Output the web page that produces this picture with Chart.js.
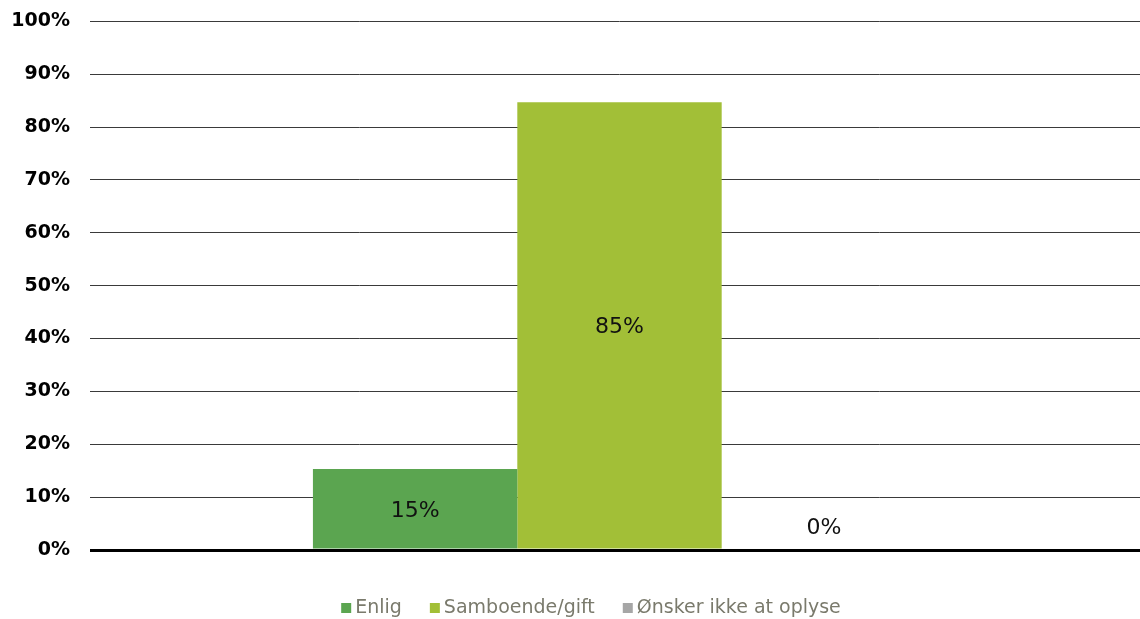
<!DOCTYPE html>
<html lang="da">
<head>
<meta charset="UTF-8">
<title>Civilstand</title>
<script src="https://cdn.jsdelivr.net/npm/chart.js@4"></script>
<style>
    html, body { margin: 0; padding: 0; background: #fff; overflow: hidden; }
    #wrap { width: 1140px; height: 629px; margin-top: -10px; }
</style>
</head>
<body>
<div id="wrap"><canvas id="canvas"></canvas></div>
<script>
    // data
    const categories = [""];
    const seriesNames = ["Enlig", "Samboende/gift", "Ønsker ikke at oplyse"];
    const seriesValues = [[15.3], [84.7], [0]];
    const seriesLabels = ["15%", "85%", "0%"];
    const seriesColors = ["#5ba550", "#a2bf37", "#a6a6a6"];
    const yTicks = [0, 10, 20, 30, 40, 50, 60, 70, 80, 90, 100];

    const FONT = "'DejaVu Sans', Verdana, sans-serif";

    // value labels in the middle of each bar (above the axis when zero)
    const valueLabels = {
        id: "valueLabels",
        afterDatasetsDraw(chart) {
            const ctx = chart.ctx;
            ctx.save();
            ctx.font = "22px " + FONT;
            ctx.fillStyle = "#111";
            ctx.textAlign = "center";
            ctx.textBaseline = "middle";
            chart.data.datasets.forEach((ds, i) => {
                const bar = chart.getDatasetMeta(i).data[0];
                let y = (bar.y + bar.base) / 2 + 2;
                if (ds.data[0] === 0) y = bar.base - 22;
                ctx.fillText(seriesLabels[i], bar.x, y);
            });
            ctx.restore();
        }
    };

    // legend drawn by hand so the box sits close to its text
    const bottomLegend = {
        id: "bottomLegend",
        afterDraw(chart) {
            const ctx = chart.ctx;
            const box = 10, gap = 4, spacing = 28;
            const y = chart.chartArea.bottom + 58;
            ctx.save();
            ctx.font = "19px " + FONT;
            ctx.textBaseline = "middle";
            const widths = seriesNames.map(n => box + gap + ctx.measureText(n).width);
            const total = widths.reduce((a, b) => a + b, 0) + spacing * (widths.length - 1);
            let x = (chart.width - total) / 2 + 21;
            seriesNames.forEach((name, i) => {
                ctx.fillStyle = seriesColors[i];
                ctx.fillRect(x, y - box / 2, box, box);
                ctx.fillStyle = "#7a7a6c";
                ctx.fillText(name, x + box + gap, y);
                x += widths[i] + spacing;
            });
            ctx.restore();
        }
    };

    const chart = new Chart(document.getElementById("canvas"), {
        type: "bar",
        data: {
            labels: categories,
            datasets: seriesNames.map((name, i) => ({
                label: name,
                data: seriesValues[i],
                backgroundColor: seriesColors[i],
                borderWidth: 0,
                categoryPercentage: 0.589,
                barPercentage: 1
            }))
        },
        options: {
            responsive: true,
            maintainAspectRatio: false,
            animation: false,
            layout: { padding: { top: 0, right: 0, left: 0, bottom: 69 } },
            plugins: {
                tooltip: { enabled: false },
                legend: { display: false }
            },
            scales: {
                x: {
                    display: false,
                    grid: { display: false }
                },
                y: {
                    min: 0,
                    max: 100,
                    afterBuildTicks: (scale) => { scale.ticks = yTicks.map(v => ({ value: v })); },
                    afterFit: (scale) => { scale.width = 99; },
                    border: { display: false },
                    grid: {
                        drawTicks: true,
                        tickLength: 9,
                        color: (c) => c.tick && c.tick.value === 0 ? "#000" : "#3a3a3a",
                        lineWidth: (c) => c.tick && c.tick.value === 0 ? 3 : 1
                    },
                    ticks: {
                        padding: 20,
                        color: "#000",
                        font: { family: FONT, size: 19, weight: "bold" },
                        callback: (v) => v + "%"
                    }
                }
            }
        },
        plugins: [valueLabels, bottomLegend]
    });
</script>
</body>
</html>
